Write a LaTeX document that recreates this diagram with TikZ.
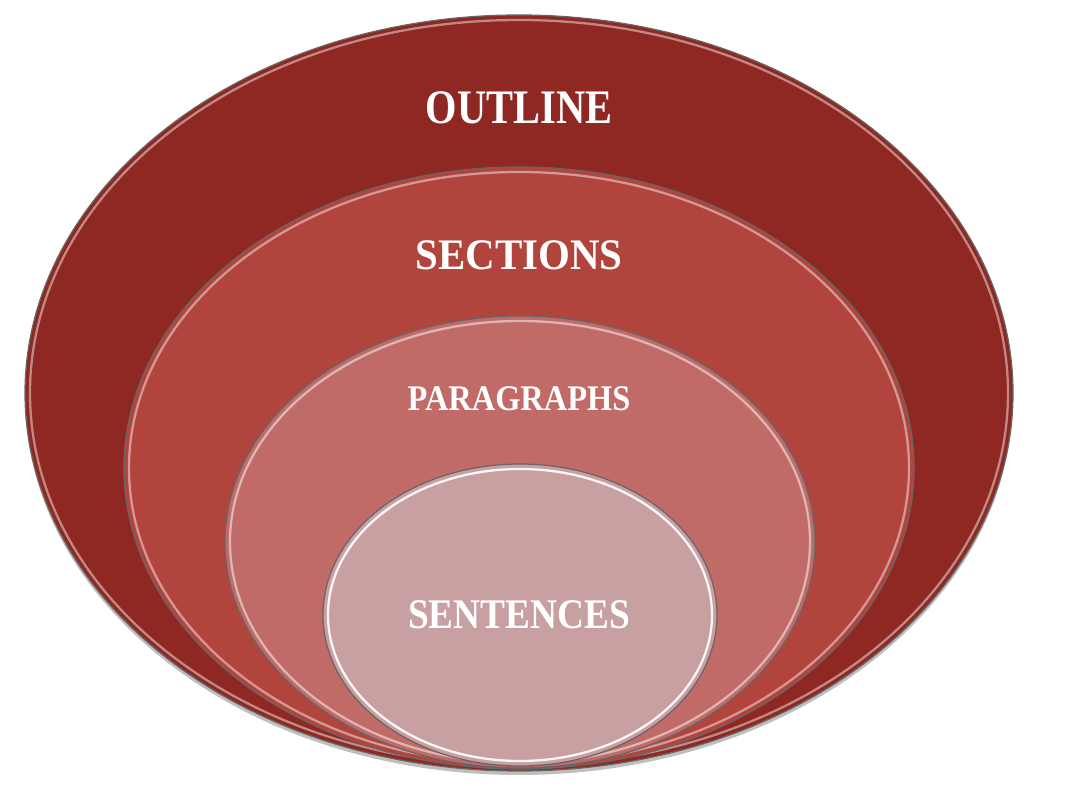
\documentclass[tikz,border=0pt]{standalone}
\usepackage{fontspec}
\setmainfont{Liberation Serif}
\definecolor{outlinered}{HTML}{8F2822}
\definecolor{sectionred}{HTML}{B2443E}
\definecolor{pararose}{HTML}{C06B68}
\definecolor{sentpink}{HTML}{C9A0A1}
\begin{document}
\begin{tikzpicture}[x=0.02cm,y=-0.02cm,
    edgeline/.style={draw=black!60,line width=0.7pt},
    rim/.style={line width=1.3pt},
    word/.style={text=white,inner sep=0pt,font=\bfseries}]
  \useasboundingbox (0,0) rectangle (1072,786);
  % soft shadow under the whole stack
  \fill[black,opacity=0.25] (519,397) ellipse [x radius=494,y radius=378];
  % outline
  \fill[outlinered,edgeline] (519,393) ellipse [x radius=494,y radius=378];
  \draw[rim,draw=outlinered!55!white] (519,393) ellipse [x radius=489,y radius=373];
  % sections
  \fill[sectionred,edgeline] (519,468) ellipse [x radius=395,y radius=301];
  \draw[rim,draw=sectionred!55!white] (519,468) ellipse [x radius=390,y radius=296];
  % paragraphs
  \fill[pararose,edgeline] (520,542) ellipse [x radius=295,y radius=226];
  \draw[rim,draw=pararose!50!white] (520,542) ellipse [x radius=290,y radius=221];
  % sentences
  \fill[sentpink,edgeline] (520,615) ellipse [x radius=197,y radius=151];
  \draw[rim,draw=white!90!sentpink] (520,615) ellipse [x radius=192,y radius=146];
  % labels
  \node[word,font=\bfseries\fontsize{27.4}{32}\selectfont] (outline) at (519,108) {\scalebox{0.84}[1]{OUTLINE}};
  \node[word,font=\bfseries\fontsize{24.8}{30}\selectfont] (sections) at (519,255) {\scalebox{0.94}[1]{SECTIONS}};
  \node[word,font=\bfseries\fontsize{20.5}{24}\selectfont] (paragraphs) at (519,399) {\scalebox{0.90}[1]{PARAGRAPHS}};
  \node[word,font=\bfseries\fontsize{24}{29}\selectfont] (sentences) at (519,615) {\scalebox{0.885}[1]{SENTENCES}};
\end{tikzpicture}
\end{document}
